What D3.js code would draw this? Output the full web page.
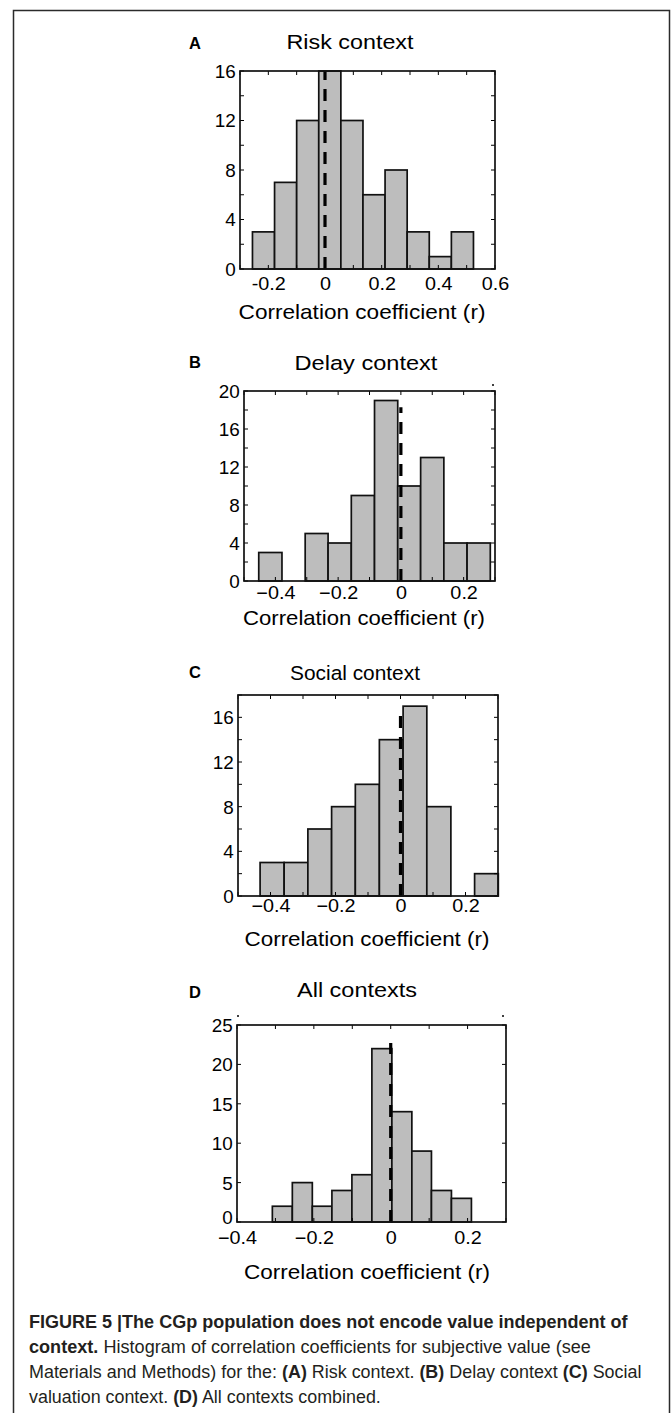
<!DOCTYPE html>
<html>
<head>
<meta charset="utf-8">
<script src="https://cdn.jsdelivr.net/npm/d3@7"></script>
<style>
  html, body { margin: 0; padding: 0; background: #fff; }
  svg { display: block; }
  text { font-family: "Liberation Sans", Arial, Helvetica, sans-serif; fill: #000; }
  .cap { font-family: "Liberation Sans Narrow", "Arial Narrow", "Liberation Sans", Arial, sans-serif; fill: #231f20; }
</style>
</head>
<body>
<script>
// ---------------- DATA ----------------
const panelLetters = ["A", "B", "C", "D"];
const panelTitles = ["Risk context", "Delay context", "Social context", "All contexts"];
const xAxisTitle = "Correlation coefficient (r)";

// histogram bin edges (r) and counts
const edgesA = [-0.256, -0.178, -0.100, -0.022, 0.056, 0.134, 0.212, 0.290, 0.368, 0.446, 0.524];
const countsA = [3, 7, 12, 16, 12, 6, 8, 3, 1, 3];
const edgesB = [-0.453, -0.379, -0.305, -0.232, -0.158, -0.084, -0.010, 0.063, 0.137, 0.211, 0.285];
const countsB = [3, 0, 5, 4, 9, 19, 10, 13, 4, 4];
const edgesC = [-0.432, -0.358, -0.285, -0.212, -0.139, -0.065, 0.008, 0.081, 0.155, 0.228, 0.301];
const countsC = [3, 3, 6, 8, 10, 14, 17, 8, 0, 2];
const edgesD = [-0.308, -0.256, -0.204, -0.153, -0.101, -0.049, 0.003, 0.055, 0.106, 0.158, 0.210];
const countsD = [2, 5, 2, 4, 6, 22, 14, 9, 4, 3];

// dashed reference line at r = 0, its top (count units)
const zeroLineX = [0, 0, 0, 0];
const zeroLineTop = [16, 18.3, 16.7, 22.7];

// axis domains
const xDomains = [[-0.3, 0.6], [-0.5, 0.3], [-0.5, 0.3], [-0.4, 0.3]];
const yDomains = [[0, 16], [0, 20], [0, 18], [0, 25]];

// tick labels
const xTickValuesA = [-0.2, 0, 0.2, 0.4, 0.6];
const xTickLabelsA = ["-0.2", "0", "0.2", "0.4", "0.6"];
const xTickValuesB = [-0.4, -0.2, 0, 0.2];
const xTickLabelsB = ["\u22120.4", "\u22120.2", "0", "0.2"];
const xTickValuesC = [-0.4, -0.2, 0, 0.2];
const xTickLabelsC = ["\u22120.4", "\u22120.2", "0", "0.2"];
const xTickValuesD = [-0.4, -0.2, 0, 0.2];
const xTickLabelsD = ["\u22120.4", "\u22120.2", "0", "0.2"];
const yTickValuesA = [0, 4, 8, 12, 16];
const yTickValuesB = [0, 4, 8, 12, 16, 20];
const yTickValuesC = [0, 4, 8, 12, 16];
const yTickValuesD = [0, 5, 10, 15, 20, 25];

const captionLines = [
  [["b", "FIGURE 5 |The CGp population does not encode value independent of"]],
  [["b", "context."], ["r", " Histogram of correlation coefficients for subjective value (see"]],
  [["r", "Materials and Methods) for the: "], ["b", "(A)"], ["r", " Risk context. "], ["b", "(B)"], ["r", " Delay context "], ["b", "(C)"], ["r", " Social"]],
  [["r", "valuation context. "], ["b", "(D)"], ["r", " All contexts combined."]]
];

// ---------------- LAYOUT ----------------
const W = 671, H = 1413;
const layouts = [
  {left: 240, right: 495, top: 71, bottom: 269, letterY: 49, titleX: 350, titleY: 49, titleW: 127, xlabDy: 21, axTitleX: 362, axTitleY: 319, axTitleW: 247, yMinor: 2, zeroLift: 0},
  {left: 244, right: 495, top: 391, bottom: 581, letterY: 368, titleX: 366, titleY: 370, titleW: 143, xlabDy: 18, axTitleX: 364, axTitleY: 625, axTitleW: 242, yMinor: 2, zeroLift: 0},
  {left: 238, right: 498, top: 695, bottom: 896, letterY: 678, titleX: 355, titleY: 680, titleW: 130, xlabDy: 16, axTitleX: 367, axTitleY: 946, axTitleW: 245, yMinor: 2, zeroLift: 0},
  {left: 237, right: 506, top: 1025, bottom: 1222, letterY: 998, titleX: 357, titleY: 997, titleW: 120, xlabDy: 22, axTitleX: 367, axTitleY: 1279, axTitleW: 246, yMinor: 5, zeroLift: 5}
];

const panels = [
  {edges: edgesA, counts: countsA, xt: xTickValuesA, xl: xTickLabelsA, yt: yTickValuesA},
  {edges: edgesB, counts: countsB, xt: xTickValuesB, xl: xTickLabelsB, yt: yTickValuesB},
  {edges: edgesC, counts: countsC, xt: xTickValuesC, xl: xTickLabelsC, yt: yTickValuesC},
  {edges: edgesD, counts: countsD, xt: xTickValuesD, xl: xTickLabelsD, yt: yTickValuesD}
];

const svg = d3.select("body").append("svg").attr("width", W).attr("height", H);
svg.append("rect").attr("width", W).attr("height", H).attr("fill", "#fff");

// helper: text stretched horizontally to a target width
function fitText(parent, str, x, y, targetW, size, anchor) {
  const t = parent.append("text").attr("x", 0).attr("y", 0)
    .attr("font-size", size).attr("text-anchor", anchor).text(str);
  const w = t.node().getComputedTextLength();
  const s = w > 0 ? targetW / w : 1;
  t.attr("transform", `translate(${x},${y}) scale(${s},1)`);
  return t;
}

// outer figure frame
svg.append("path")
  .attr("d", `M13.5,${H + 5}V10.5H669.5V${H + 5}`)
  .attr("fill", "none").attr("stroke", "#2b2b2b").attr("stroke-width", 1.5);

panels.forEach((p, i) => {
  const L = layouts[i];
  const x = d3.scaleLinear().domain(xDomains[i]).range([L.left, L.right]);
  const y = d3.scaleLinear().domain(yDomains[i]).range([L.bottom, L.top]);
  const g = svg.append("g");

  // bars
  g.selectAll("rect.bar").data(p.counts).join("rect")
    .attr("class", "bar")
    .attr("x", (d, k) => x(p.edges[k]))
    .attr("width", (d, k) => x(p.edges[k + 1]) - x(p.edges[k]))
    .attr("y", d => y(d))
    .attr("height", d => y(0) - y(d))
    .attr("fill", "#bdbdbd")
    .attr("stroke", "#111")
    .attr("stroke-width", 1.7);

  // dashed zero line
  g.append("line")
    .attr("x1", x(zeroLineX[i])).attr("x2", x(zeroLineX[i]))
    .attr("y1", y(0)).attr("y2", y(zeroLineTop[i]))
    .attr("stroke", "#000").attr("stroke-width", 3.2)
    .attr("stroke-dasharray", "12,9");

  // minor ticks (inward on all four sides)
  const [x0, x1] = xDomains[i];
  const xMinor = d3.range(Math.round(x0 * 10), Math.round(x1 * 10) + 1).map(v => v / 10);
  const yMinor = d3.range(yDomains[i][0], yDomains[i][1] + 0.001, L.yMinor);
  const tl = 4;
  xMinor.forEach(v => {
    g.append("line").attr("x1", x(v)).attr("x2", x(v)).attr("y1", L.bottom).attr("y2", L.bottom - tl).attr("stroke", "#000").attr("stroke-width", 1);
    g.append("line").attr("x1", x(v)).attr("x2", x(v)).attr("y1", L.top).attr("y2", L.top + tl).attr("stroke", "#000").attr("stroke-width", 1);
  });
  yMinor.forEach(v => {
    g.append("line").attr("x1", L.left).attr("x2", L.left + tl).attr("y1", y(v)).attr("y2", y(v)).attr("stroke", "#000").attr("stroke-width", 1);
    g.append("line").attr("x1", L.right).attr("x2", L.right - tl).attr("y1", y(v)).attr("y2", y(v)).attr("stroke", "#000").attr("stroke-width", 1);
  });

  // axes (labels)
  const xAxis = d3.axisBottom(x).tickValues(p.xt).tickSize(0)
    .tickFormat((d, k) => p.xl[k]);
  const gx = g.append("g").attr("transform", `translate(0,${L.bottom})`).call(xAxis);
  gx.select(".domain").remove();
  gx.selectAll("text").attr("y", L.xlabDy).attr("dy", null)
    .attr("font-size", 18).attr("font-family", '"Liberation Sans", Arial, sans-serif')
    .attr("fill", "#000")
    .attr("transform", "scale(1.1,1)");

  const yAxis = d3.axisLeft(y).tickValues(p.yt).tickSize(0).tickFormat(d3.format("d"));
  const gy = g.append("g").attr("transform", `translate(${L.left},0)`).call(yAxis);
  gy.select(".domain").remove();
  gy.selectAll("text").attr("x", -4).attr("dy", "0.36em")
    .attr("y", d => (d === 0 ? -L.zeroLift : 0))
    .attr("font-size", 18).attr("font-family", '"Liberation Sans", Arial, sans-serif')
    .attr("fill", "#000")
    .attr("transform", "scale(1.05,1)");

  // axes box
  g.append("rect")
    .attr("x", L.left).attr("y", L.top)
    .attr("width", L.right - L.left).attr("height", L.bottom - L.top)
    .attr("fill", "none").attr("stroke", "#111").attr("stroke-width", 1.7);

  // panel letter
  svg.append("text").attr("x", 189).attr("y", L.letterY)
    .attr("font-size", 16.5).attr("font-weight", "bold").text(panelLetters[i]);

  // title
  fitText(svg, panelTitles[i], L.titleX, L.titleY, L.titleW, 19.5, "middle");

  // x-axis title
  fitText(svg, xAxisTitle, L.axTitleX, L.axTitleY, L.axTitleW, 20.5, "middle");
});

// small stray marks present in the original
const strayDots = [[493, 385], [238, 1016], [503, 1016]];
svg.selectAll("circle.stray").data(strayDots).join("circle")
  .attr("cx", d => d[0]).attr("cy", d => d[1]).attr("r", 1).attr("fill", "#000");

// caption
const capX = 29;
const capY = [1328, 1353, 1378, 1403];
const capW = [599, 562, 613, 352];
captionLines.forEach((line, i) => {
  const t = svg.append("text").attr("class", "cap")
    .attr("x", 0).attr("y", 0).attr("font-size", 18.5)
    .style("white-space", "pre");
  line.forEach(seg => {
    t.append("tspan").attr("font-weight", seg[0] === "b" ? "bold" : "normal").text(seg[1]);
  });
  const w = t.node().getComputedTextLength();
  const s = w > 0 ? capW[i] / w : 1;
  t.attr("transform", `translate(${capX},${capY[i]}) scale(${s},1)`);
});
</script>
</body>
</html>
